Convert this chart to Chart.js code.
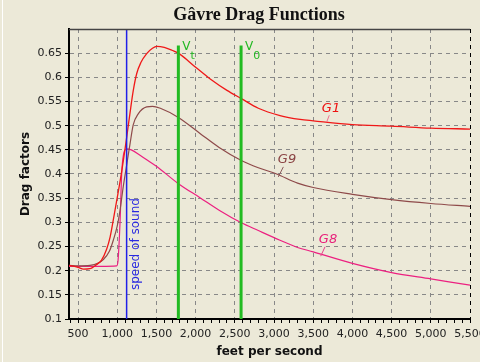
<!DOCTYPE html>
<html>
<head>
<meta charset="utf-8">
<script src="https://cdn.jsdelivr.net/npm/chart.js@4/dist/chart.umd.min.js"></script>
<style>
  html, body { margin: 0; padding: 0; background: #ECE9D8; }
  canvas { display: block; }
</style>
</head>
<body>
<canvas id="myChart" width="480" height="362"></canvas>
<script>
'use strict';

// Data (feet per second, drag factor)
let g1Speed = [385, 500, 570, 650, 740, 800, 866, 910, 950, 990, 1046, 1100, 1131, 1163, 1205, 1249, 1300, 1376, 1450, 1504, 1600, 1700, 1780, 2000, 2200, 2400, 2583, 2800, 3077, 3332, 3500, 4000, 4500, 5000, 5500];
let g1Drag = [0.211, 0.207, 0.203, 0.204, 0.213, 0.222, 0.245, 0.27, 0.305, 0.342, 0.394, 0.452, 0.488, 0.526, 0.573, 0.608, 0.63, 0.649, 0.66, 0.664, 0.662, 0.656, 0.65, 0.621, 0.595, 0.573, 0.556, 0.536, 0.521, 0.513, 0.51, 0.502, 0.499, 0.495, 0.493];

let g9Speed = [385, 500, 653, 750, 823, 900, 950, 1000, 1036, 1078, 1120, 1163, 1205, 1270, 1376, 1450, 1550, 1780, 2056, 2300, 2583, 2800, 3034, 3300, 3500, 4000, 4500, 5000, 5500];
let g9Drag = [0.211, 0.21, 0.211, 0.215, 0.223, 0.24, 0.263, 0.292, 0.325, 0.375, 0.418, 0.462, 0.502, 0.525, 0.539, 0.54, 0.536, 0.517, 0.484, 0.455, 0.428, 0.413, 0.4, 0.381, 0.372, 0.358, 0.347, 0.339, 0.333];

let g8Speed = [385, 600, 800, 993, 1010, 1036, 1057, 1080, 1120, 1180, 1300, 1400, 1500, 1780, 2056, 2300, 2583, 2800, 3077, 3300, 3500, 4000, 4500, 5000, 5500];
let g8Drag = [0.209, 0.209, 0.209, 0.21, 0.22, 0.3, 0.4, 0.44, 0.452, 0.45, 0.438, 0.427, 0.416, 0.38, 0.351, 0.325, 0.299, 0.283, 0.263, 0.248, 0.239, 0.215, 0.196, 0.183, 0.17];

let speedOfSound = 1120;
let vt = 1780;
let v0 = 2580;
let velocityTop = 0.666;

let xMin = 385;
let xMax = 5500;
let yMin = 0.1;
let yMax = 0.7;

function toPoints(xs, ys) {
  let pts = [];
  for (let i = 0; i < xs.length; i++) {
    pts.push({ x: xs[i], y: ys[i] });
  }
  return pts;
}

function vLine(x, top) {
  return [{ x: x, y: yMin }, { x: x, y: top }];
}

// Decorations: background, top border, title, notes on the plot
let decor = {
  id: 'decor',
  beforeDraw(chart) {
    let ctx = chart.ctx;
    ctx.save();
    ctx.fillStyle = '#ECE9D8';
    ctx.fillRect(0, 0, chart.width, chart.height);
    ctx.fillStyle = '#ffffff';
    ctx.fillRect(2, 0, 1, chart.height);
    ctx.restore();
  },
  afterDraw(chart) {
    let ctx = chart.ctx;
    let area = chart.chartArea;
    let xs = chart.scales.x;
    let ys = chart.scales.y;
    ctx.save();

    // top border
    ctx.strokeStyle = '#444';
    ctx.lineWidth = 1.5;
    ctx.beginPath();
    ctx.moveTo(area.left, area.top + 0.5);
    ctx.lineTo(area.right, area.top + 0.5);
    ctx.stroke();

    // title
    ctx.fillStyle = '#111';
    ctx.font = 'bold 18px "Liberation Serif", "Times New Roman", serif';
    ctx.textAlign = 'center';
    ctx.textBaseline = 'middle';
    ctx.fillText('Gâvre Drag Functions', 259, 15);

    // Vt and V0
    ctx.fillStyle = '#22b822';
    ctx.textAlign = 'left';
    ctx.textBaseline = 'alphabetic';
    let topPx = ys.getPixelForValue(velocityTop);
    [[vt, 't'], [v0, '0']].forEach(function (item) {
      let px = xs.getPixelForValue(item[0]);
      ctx.font = '12px "DejaVu Sans", sans-serif';
      ctx.fillText('V', px + 4, topPx + 5);
      let w = ctx.measureText('V').width;
      ctx.font = '11px "DejaVu Sans", sans-serif';
      ctx.fillText(item[1], px + 4 + w, topPx + 14);
    });

    // speed of sound
    let sx = xs.getPixelForValue(speedOfSound) + 9;
    let sy = ys.getPixelForValue(0.255);
    ctx.save();
    ctx.translate(sx, sy);
    ctx.rotate(-Math.PI / 2);
    ctx.fillStyle = '#2a2ae0';
    ctx.font = '12px "DejaVu Sans", sans-serif';
    ctx.textAlign = 'center';
    ctx.textBaseline = 'middle';
    ctx.fillText('speed of sound', 0, 0);
    ctx.restore();

    // curve names with leader lines
    let notes = [
      { text: 'G1', color: '#ee1111', lead: '#f07090', at: [3727, 0.536], from: [3705, 0.5215], to: [3672, 0.5076] },
      { text: 'G9', color: '#8a4444', lead: '#8a5a5a', at: [3166, 0.4306], from: [3119, 0.4147], to: [3055, 0.394] },
      { text: 'G8', color: '#e8207a', lead: '#e8408a', at: [3689, 0.265], from: [3651, 0.2494], to: [3596, 0.23] }
    ];
    notes.forEach(function (n) {
      ctx.strokeStyle = n.lead;
      ctx.lineWidth = 1;
      ctx.beginPath();
      ctx.moveTo(xs.getPixelForValue(n.from[0]), ys.getPixelForValue(n.from[1]));
      ctx.lineTo(xs.getPixelForValue(n.to[0]), ys.getPixelForValue(n.to[1]));
      ctx.stroke();
      ctx.fillStyle = n.color;
      ctx.font = 'italic 13px "DejaVu Sans", sans-serif';
      ctx.textAlign = 'center';
      ctx.textBaseline = 'middle';
      ctx.fillText(n.text, xs.getPixelForValue(n.at[0]), ys.getPixelForValue(n.at[1]));
    });

    ctx.restore();
  }
};

function chart() {
  let ctx = document.getElementById('myChart');
  // eslint-disable-next-line no-undef
  let myChart = new Chart(ctx, {
    type: 'line',
    data: {
      datasets: [{
        label: 'Vt',
        data: vLine(vt, velocityTop),
        borderColor: '#22bb22',
        borderWidth: 3
      }, {
        label: 'V0',
        data: vLine(v0, velocityTop),
        borderColor: '#22bb22',
        borderWidth: 3
      }, {
        label: 'speed of sound',
        data: vLine(speedOfSound, yMax),
        borderColor: '#2020e8',
        borderWidth: 1.5
      }, {
        label: 'G1',
        data: toPoints(g1Speed, g1Drag),
        borderColor: '#f01818',
        borderWidth: 1.3,
        cubicInterpolationMode: 'monotone'
      }, {
        label: 'G9',
        data: toPoints(g9Speed, g9Drag),
        borderColor: '#8e4a4a',
        borderWidth: 1.2,
        cubicInterpolationMode: 'monotone'
      }, {
        label: 'G8',
        data: toPoints(g8Speed, g8Drag),
        borderColor: '#ec2080',
        borderWidth: 1.2,
        cubicInterpolationMode: 'monotone'
      }]
    },
    options: {
      responsive: false,
      animation: false,
      devicePixelRatio: 1,
      parsing: false,
      elements: { point: { radius: 0 } },
      layout: { padding: { top: 29, right: 10, left: 0, bottom: 0 } },
      plugins: {
        legend: { display: false },
        tooltip: { enabled: false },
        title: { display: false }
      },
      scales: {
        x: {
          type: 'linear',
          min: xMin,
          max: xMax,
          afterFit: function (s) {
            s.height = 43;
            s.paddingLeft = 0;
            s.paddingRight = 0;
          },
          ticks: {
            stepSize: 100,
            autoSkip: false,
            includeBounds: false,
            maxRotation: 0,
            padding: 5,
            color: '#222',
            font: { family: '"DejaVu Sans", sans-serif', size: 11 },
            callback: function (v) {
              return v % 500 === 0 ? v.toLocaleString('en-US') : '';
            }
          },
          grid: {
            color: function (c) {
              if (!c.tick || c.tick.value % 500 !== 0) return 'rgba(0,0,0,0)';
              return c.tick.value === xMax ? '#000' : '#888';
            },
            tickColor: '#000',
            tickLength: 4
          },
          border: { color: '#000', width: 2, dash: [4, 4] },
          title: {
            display: true,
            text: 'feet per second',
            color: '#111',
            font: { family: '"DejaVu Sans", sans-serif', size: 12, weight: 'bold' },
            padding: { top: 0, bottom: 3 }
          }
        },
        y: {
          min: yMin,
          max: yMax,
          afterFit: function (s) {
            s.width = 69;
            s.paddingTop = 0;
            s.paddingBottom = 0;
          },
          ticks: {
            stepSize: 0.05,
            padding: 3,
            color: '#222',
            font: { family: '"DejaVu Sans", sans-serif', size: 11 },
            callback: function (v) {
              return v > 0.69 ? '' : String(+v.toFixed(2));
            }
          },
          grid: {
            color: function (c) {
              return c.tick && c.tick.value > 0.69 ? 'rgba(0,0,0,0)' : '#888';
            },
            tickColor: function (c) {
              return c.tick && c.tick.value > 0.69 ? 'rgba(0,0,0,0)' : '#000';
            },
            tickLength: 4
          },
          border: { color: '#000', width: 2, dash: [4, 4] },
          title: {
            display: true,
            text: 'Drag factors',
            color: '#111',
            font: { family: '"DejaVu Sans", sans-serif', size: 12, weight: 'bold' },
            padding: { top: 19, bottom: 0 }
          }
        }
      }
    },
    plugins: [decor]
  });
}
chart();
</script>
</body>
</html>
